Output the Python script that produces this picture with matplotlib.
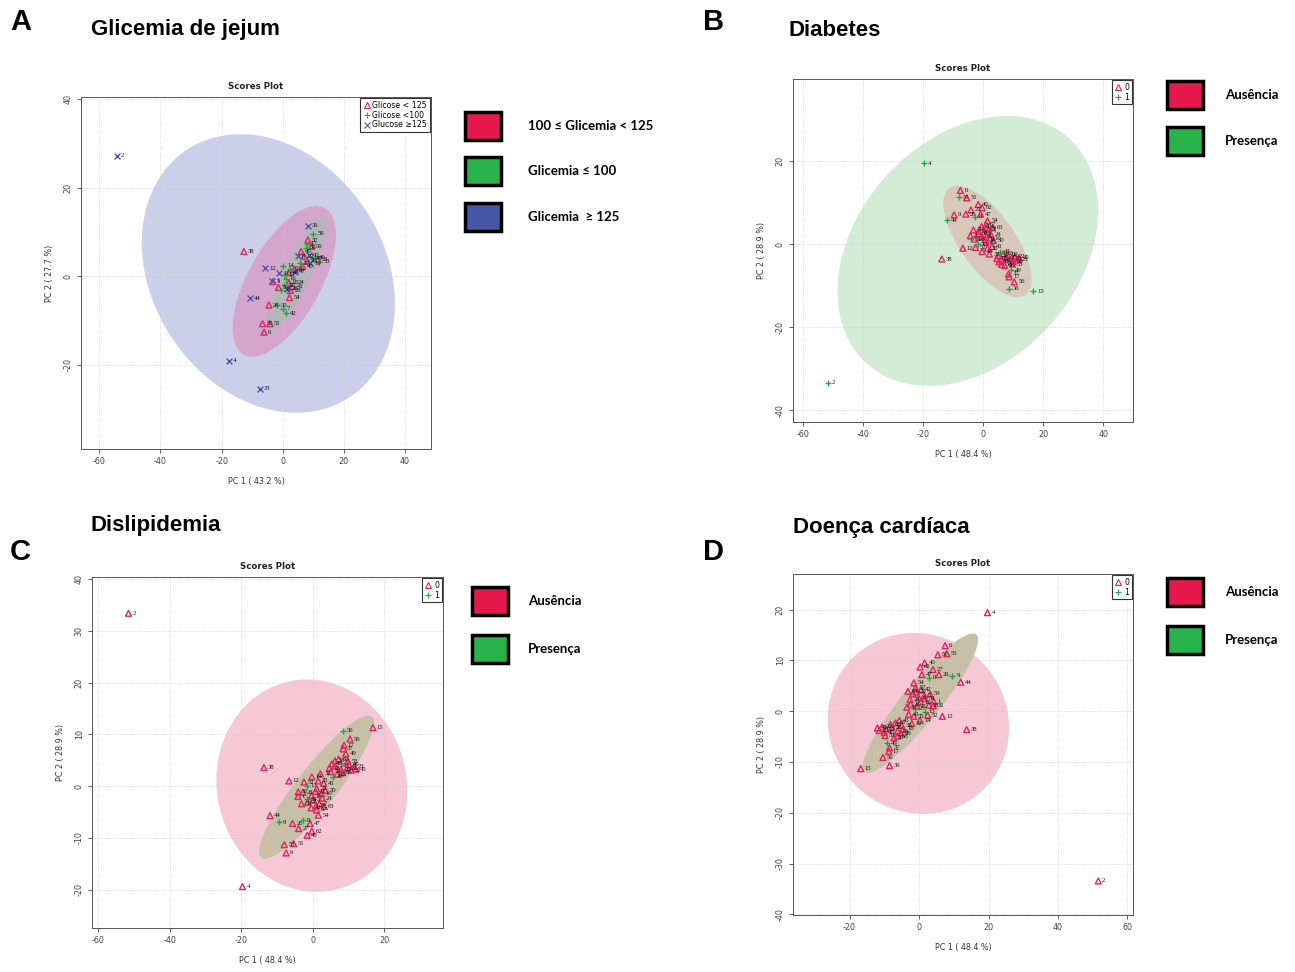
import numpy as np
import matplotlib.pyplot as plt
from matplotlib.patches import Rectangle
from matplotlib.lines import Line2D

plt.rcParams['axes.unicode_minus'] = False

W, H = 1295, 972

# ---- painel A: glicemia de jejum (PCA propria) ----
a_rot = ['2', '4', '33', '44', '38', '12', '36', '58', '37', '17', '49', '8', '22', '20',
         '45', '46', '23', '19', '53', '60', '50', '21', '61', '14', '11', '1', '3', '5',
         '16', '24', '25', '28', '29', '32', '35', '41', '54', '26', '30', '7', '42', '55',
         '51', '6', '13', '43', '27', '40', '47', '56']
a_pc1 = [-54.3, -17.5, -7.6, -10.7, -12.7, -5.8, 8.2, 10.0, 8.2, 7.8, 6.0, 4.9, 7.0, 8.0,
         9.5, 10.5, 11.5, 9.0, 12.0, 8.5, 7.5, 3.8, 2.5, 0.2, -1.1, -3.4, -3.2, -1.4,
         1.0, 3.5, 2.0, 1.5, 2.5, 0.5, -0.5, 3.2, 2.2, -4.5, -1.8, 0.0, 1.0, -6.6,
         -4.2, -6.1, 0.5, 2.0, 5.5, 6.5, 4.0, 9.5]
a_pc2 = [27.2, -19.1, -25.4, -5.0, 5.6, 1.8, 11.4, 9.6, 8.2, 7.3, 5.6, 4.5, 4.5, 3.5,
         4.0, 4.2, 3.8, 3.0, 3.3, 4.8, 6.5, 1.6, 1.7, 2.4, 0.7, -1.0, -1.2, -2.5,
         -0.5, -1.5, -1.5, -2.8, -3.2, -2.0, -3.0, -2.3, -4.8, -6.5, -6.5, -7.3, -8.3, -10.7,
         -10.7, -12.6, 0.3, 0.8, 3.0, 2.2, 1.0, 6.8]
# 0 = Glicose < 125, 1 = Glicose < 100, 2 = Glucose >= 125
a_grupo = [2, 2, 2, 2, 0, 2, 2, 1, 0, 1, 0, 2, 0, 0,
           1, 1, 0, 2, 1, 2, 1, 0, 1, 1, 2, 2, 0, 0,
           1, 1, 0, 2, 0, 1, 1, 0, 0, 0, 1, 1, 1, 0,
           0, 0, 1, 0, 1, 0, 2, 0]
a_legenda = ['Glicose < 125', 'Glicose <100', 'Glucose \u2265125']

# ---- paineis B, C, D: mesma PCA (PC1 48.4 %, PC2 28.9 %) ----
bcd_rot = ['2', '4', '38', '15', '36', '56', '6', '55', '51', '40', '62', '27', '26', '9',
           '44', '8', '47', '54', '12', '14', '13', '43', '58', '49', '37', '17', '18', '19',
           '20', '21', '22', '23', '45', '46', '48', '50', '53', '60', '61', '39', '32', '35',
           '41', '25', '30', '11', '10', '16', '1', '31', '28', '34', '5', '24', '3', '7',
           '29', '59', '42', '57', '52', '63']
bcd_pc1 = [-51.6, -19.7, -13.7, 16.8, 8.5, 10.4, -7.5, -8.0, -5.4, -1.6, -0.3, -4.0, -5.7, -9.6,
           -12.0, -2.8, -0.8, 1.5, -6.7, -0.3, -1.7, 5.7, 6.2, 9.2, 8.5, 8.7, 4.6, 6.2,
           7.9, 9.6, 10.7, 11.5, 12.0, 10.0, 5.3, 7.2, 9.8, 8.2, 6.8, 5.0, 2.1, 1.5,
           3.0, 1.1, 3.5, 0.7, 2.4, -0.4, -4.2, -4.1, -2.8, -1.6, 0.1, 2.6, -1.5, 1.8,
           0.9, -3.2, -0.5, 1.0, -2.5, 3.2]
bcd_pc2 = [-33.4, 19.4, -3.6, -11.3, -10.7, -9.1, 12.9, 11.3, 11.1, 9.5, 8.7, 8.2, 7.2, 7.0,
           5.7, 6.6, 7.2, 5.6, -1.0, -1.8, -0.1, -1.8, -4.9, -6.3, -7.2, -7.9, -3.5, -3.9,
           -3.2, -3.5, -3.1, -3.8, -3.3, -4.2, -4.3, -5.2, -4.8, -2.6, -2.3, -2.8, -2.4, -1.0,
           -0.6, 0.5, 0.8, 1.0, 1.4, 1.8, 2.0, 1.1, 1.2, 2.5, 2.6, 2.3, 3.1, 3.4,
           3.8, 3.4, 4.2, 4.6, -0.8, 3.9]
diab_grupo = [1, 1, 0, 1, 1, 0, 0, 1, 0, 0, 0, 0, 0, 0,
              1, 1, 0, 0, 0, 0, 1, 1, 0, 1, 0, 0, 0, 0,
              0, 0, 0, 0, 0, 0, 0, 0, 0, 0, 0, 0, 0, 0,
              0, 0, 0, 0, 0, 0, 0, 1, 0, 0, 0, 0, 0, 0,
              0, 0, 0, 0, 0, 0]
dislip_grupo = [0, 0, 0, 0, 1, 0, 0, 0, 0, 0, 0, 0, 0, 1,
                0, 1, 0, 0, 0, 0, 1, 1, 0, 0, 0, 0, 0, 0,
                0, 0, 0, 0, 0, 0, 0, 0, 0, 0, 0, 0, 0, 0,
                0, 0, 0, 0, 0, 0, 0, 0, 0, 1, 0, 0, 0, 0,
                0, 0, 0, 0, 0, 0]
cardio_grupo = [0, 0, 0, 0, 0, 0, 0, 0, 0, 0, 0, 0, 0, 1,
                0, 1, 0, 0, 0, 0, 1, 0, 0, 1, 0, 0, 0, 0,
                0, 0, 0, 0, 0, 0, 0, 0, 0, 0, 0, 0, 0, 0,
                0, 1, 0, 0, 0, 0, 0, 0, 0, 0, 0, 0, 0, 0,
                0, 0, 0, 0, 0, 0]
# sinal dos componentes em cada painel (PCA com eixos invertidos)
diab_sinal = (1, 1)
dislip_sinal = (1, -1)
cardio_sinal = (-1, 1)

# elipses: centro, semi-eixos (x, y), correlacao, cor
a_elipses = [((-4.7, 0.65), (41.4, 31.45), -0.22, '#cbcfea'),
             ((0.5, -1.15), (16.9, 17.0), 0.62, '#d4a6ce'),
             ((4.5, 0.35), (9.7, 13.15), 0.87, '#b5b5bc')]
b_elipses = [((-5.05, -1.65), (43.35, 32.45), 0.3, '#d3ecd5'),
             ((1.5, 0.6), (14.7, 13.4), -0.68, '#d7c8b9')]
c_elipses = [((-0.3, 0.1), (26.7, 20.5), -0.05, '#f6c8d6'),
             ((1.05, -0.2), (16.05, 13.8), 0.9, '#c8bfa7')]
d_elipses = [((-0.2, -2.4), (26.1, 17.8), -0.05, '#f6c8d6'),
             ((0.4, 1.6), (16.6, 13.7), 0.91, '#c8bfa7')]

marcadores = [('^', '#e0245e'), ('+', '#25a838'), ('x', '#4a58b0')]


def elipse(ax, centro, semi, r, cor):
    t = np.linspace(0, 2 * np.pi, 300)
    x = centro[0] + semi[0] * np.cos(t)
    y = centro[1] + semi[1] * (r * np.cos(t) + np.sqrt(1 - r ** 2) * np.sin(t))
    ax.fill(x, y, color=cor, lw=0, zorder=1)


def pontos(ax, rot, pc1, pc2, grupo, sinal=(1, 1)):
    x = np.array(pc1) * sinal[0]
    y = np.array(pc2) * sinal[1]
    g = np.array(grupo)
    for k, (m, c) in enumerate(marcadores):
        sel = g == k
        if not sel.any():
            continue
        if m == '^':
            ax.scatter(x[sel], y[sel], s=18, marker=m, facecolors='none',
                       edgecolors=c, linewidths=1.0, zorder=3)
        else:
            ax.scatter(x[sel], y[sel], s=18, marker=m, color=c, linewidths=1.0, zorder=3)
    for i in range(len(rot)):
        ax.annotate(rot[i], (x[i], y[i]), xytext=(2.8, 0), textcoords='offset points',
                    fontsize=4.8, va='center', family='Liberation Serif', color='#111111', zorder=4)


def eixo(pos, xlim, ylim, xticks, yticks, xlab, ylab):
    l, r, t, b = pos
    ax = fig.add_axes([l / W, 1 - b / H, (r - l) / W, (b - t) / H])
    ax.set_xlim(xlim)
    ax.set_ylim(ylim)
    ax.set_xticks(xticks)
    ax.set_yticks(yticks)
    ax.tick_params(labelsize=5.8, length=3, width=0.6, pad=3, colors='#444444')
    ax.tick_params(axis='y', labelrotation=90)
    for lab in ax.get_yticklabels():
        lab.set_va('center')
    ax.set_axisbelow('line')
    ax.grid(True, ls=':', lw=0.5, color='#c8c8c8')
    for s in ax.spines.values():
        s.set_color('#555555')
        s.set_linewidth(0.7)
    ax.set_title('Scores Plot', fontsize=6.2, fontweight='bold', pad=6, color='#222222')
    ax.set_xlabel(xlab, fontsize=5.8, labelpad=8, color='#333333')
    ax.set_ylabel(ylab, fontsize=5.8, labelpad=7, color='#333333')
    return ax


def legenda_interna(ax, nomes):
    hs = []
    for k, nome in enumerate(nomes):
        m, c = marcadores[k]
        if m == '^':
            hs.append(Line2D([], [], ls='', marker=m, mfc='none', mec=c, mew=0.8, ms=3.8, label=nome))
        else:
            hs.append(Line2D([], [], ls='', marker=m, color=c, mew=0.8, ms=3.8, label=nome))
    lg = ax.legend(handles=hs, loc='upper right', fontsize=5.6, fancybox=False, framealpha=1,
                   edgecolor='#333333', borderpad=0.35, handletextpad=0.3, handlelength=0.9,
                   borderaxespad=0.15, labelspacing=0.1)
    lg.get_frame().set_linewidth(0.8)


def legenda_lateral(x, ys, cores, nomes, xt):
    for y, c, n in zip(ys, cores, nomes):
        fig.add_artist(Rectangle((x / W, 1 - (y + 14) / H), 36 / W, 28 / H,
                                 transform=fig.transFigure, facecolor=c,
                                 edgecolor='black', lw=2.5))
        fig.text(xt / W, 1 - y / H, n, fontsize=9.5, fontweight='bold', va='center',
                 family=['Lato', 'DejaVu Sans'])


fig = plt.figure(figsize=(W / 100, H / 100), dpi=100)

# A
ax = eixo((81, 431, 97, 449), (-66, 48.5), (-39, 40.5), [-60, -40, -20, 0, 20, 40],
          [-20, 0, 20, 40], 'PC 1 ( 43.2 %)', 'PC 2 ( 27.7 %)')
for e in a_elipses:
    elipse(ax, *e)
pontos(ax, a_rot, a_pc1, a_pc2, a_grupo)
legenda_interna(ax, a_legenda)

# B
ax = eixo((793, 1133, 79, 422), (-63.2, 49.9), (-42.8, 39.7), [-60, -40, -20, 0, 20, 40],
          [-40, -20, 0, 20], 'PC 1 ( 48.4 %)', 'PC 2 ( 28.9 %)')
for e in b_elipses:
    elipse(ax, *e)
pontos(ax, bcd_rot, bcd_pc1, bcd_pc2, diab_grupo, diab_sinal)
legenda_interna(ax, ['0', '1'])

# C
ax = eixo((92, 443, 577, 928), (-61.8, 36.4), (-27.4, 40.4), [-60, -40, -20, 0, 20],
          [-20, -10, 0, 10, 20, 30, 40], 'PC 1 ( 48.4 %)', 'PC 2 ( 28.9 %)')
for e in c_elipses:
    elipse(ax, *e)
pontos(ax, bcd_rot, bcd_pc1, bcd_pc2, dislip_grupo, dislip_sinal)
legenda_interna(ax, ['0', '1'])

# D
ax = eixo((793, 1133, 574, 915), (-36.3, 61.6), (-40.1, 27.0), [-20, 0, 20, 40, 60],
          [-40, -30, -20, -10, 0, 10, 20], 'PC 1 ( 48.4 %)', 'PC 2 ( 28.9 %)')
for e in d_elipses:
    elipse(ax, *e)
pontos(ax, bcd_rot, bcd_pc1, bcd_pc2, cardio_grupo, cardio_sinal)
legenda_interna(ax, ['0', '1'])

# letras e titulos
for letra, x, y in [('A', 10, 22), ('B', 703, 22), ('C', 10, 552), ('D', 703, 552)]:
    fig.text(x / W, 1 - y / H, letra, fontsize=21, fontweight='bold', va='center',
             family='Liberation Sans')
for tit, x, y in [('Glicemia de jejum', 91, 30), ('Diabetes', 789, 30),
                  ('Dislipidemia', 91, 525), ('Doença cardíaca', 793, 527)]:
    fig.text(x / W, 1 - y / H, tit, fontsize=16, fontweight='bold', va='center',
             family='Liberation Sans')

# legendas laterais
verm, verde, azul = '#e5194b', '#2ab24b', '#4558a8'
legenda_lateral(465, [126, 171, 217], [verm, verde, azul],
                ['100 \u2264 Glicemia < 125', 'Glicemia \u2264 100', 'Glicemia  \u2265 125'], 528)
legenda_lateral(1167, [95, 141], [verm, verde], ['Ausência', 'Presença'], 1225)
legenda_lateral(472, [601, 649], [verm, verde], ['Ausência', 'Presença'], 528)
legenda_lateral(1167, [592, 640], [verm, verde], ['Ausência', 'Presença'], 1225)

fig.savefig('out.png', dpi=100)
